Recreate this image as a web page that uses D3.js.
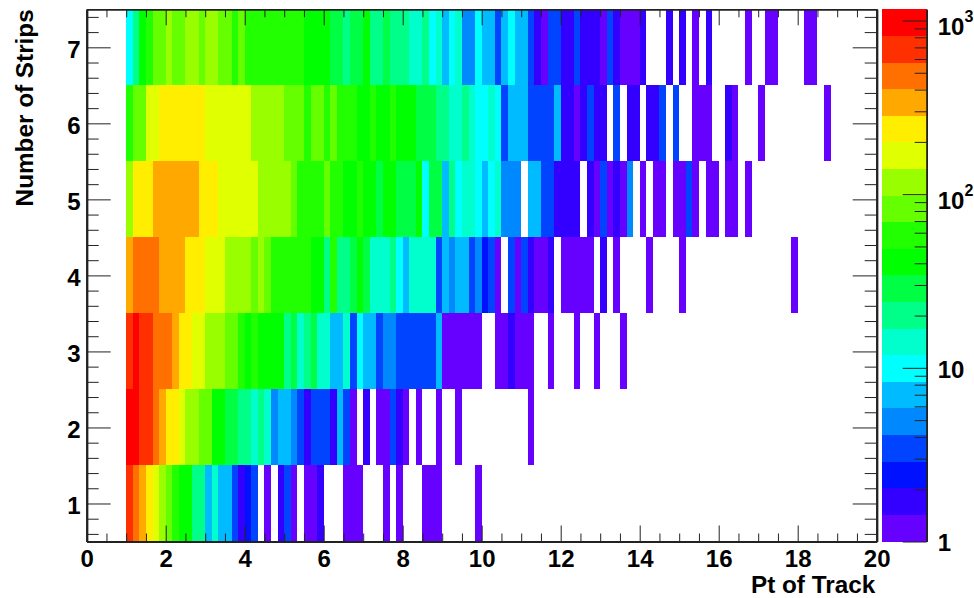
<!DOCTYPE html>
<html>
<head>
<meta charset="utf-8">
<script src="https://cdn.jsdelivr.net/npm/d3@7/dist/d3.min.js"></script>
<style>
html,body{margin:0;padding:0;background:#fff;}
svg{display:block;}
text{font-family:"Liberation Sans",Arial,sans-serif;font-weight:700;fill:#000;}
</style>
</head>
<body>
<svg id="chart" width="974" height="598"></svg>
<script>
// Counts per Pt bin (bin width 1/6, first bin starts at Pt = 1), one array per strip count
const ptStart = 1, ptBinWidth = 1 / 6;
const strips1 = [687,483,339,238,167,117,83,58,41,41, 20,20,7,14,7,7,3.4,1.7,2.4,3.4,
  0,1.2,0,1.7,3.4,1.2,0,1.2,1.2,1.7, 0,0,0,1.2,1.2,1.2,0,0,0,1.2,
  0,1.2,0,0,0,1.2,1.2,1.2,0,0, 0,0,0,1.2];
const strips2 = [978,978,687,687,483,339,238,238,167,117, 117,83,83,41,41,29,29,20,20,14,
  20,14,4.9,7,7,4.9,3.4,1.7,3.4,3.4, 3.4,1.7,7,3.4,1.2,0,1.7,0,1.2,1.2,
  3.4,1.7,1.2,0,1.2,0,0,1.2,0,0, 1.2,0,0,0,0,0,0,0,0,0, 0,1.2];
const strips3 = [687,978,687,687,483,483,483,339,238,238, 167,167,117,117,117,83,83,58,41,58,
  41,41,41,41,20,29,14,20,29,14, 14,7,7,14,3.4,10,7,7,3.4,4.9,
  4.9,3.4,3.4,3.4,3.4,3.4,3.4,7,1.2,1.2, 1.2,1.2,1.2,1.2,0,0,1.2,1.2,1.7,1.2,
  1.2,1.2,0,0,1.2,0,0,0,1.2,0, 0,1.2,0,0,0,1.2];
const strips4 = [339,483,483,483,483,339,339,339,339,238, 238,238,167,167,167,117,117,117,117,83,
  117,83,58,58,58,58,58,58,41,41, 20,58,20,20,29,41,29,14,14,14,
  20,10,7,14,14,14,14,3.4,7,4.9, 7,7,3.4,4.9,2.4,3.4,1.2,0,3.4,1.2,
  3.4,1.7,1.2,1.2,1.7,0,1.2,1.2,1.2,1.2, 1.2,0,1.7,0,1.2,0,0,0,0,1.2,
  0,0,0,0,1.2,0,0,0,0,0, 0,0,0,0,0,0,0,0,0,0, 0,1.2];
const strips5 = [117,238,238,238,339,339,339,339,339,339, 339,238,238,238,167,167,167,167,167,167,
  117,117,117,117,117,83,58,58,58,58, 83,58,58,41,41,58,41,41,29,41,
  41,29,29,29,41,10,29,29,7,20, 10,14,14,10,7,10,14,4.9,4.9,4.9,
  0,7,7,3.4,3.4,1.7,1.7,1.7,1.7,0, 1.7,1.2,3.4,1.2,1.7,1.2,4.9,0,1.2,0,
  1.2,1.2,0,1.2,1.2,3.4,1.2,0,1.2,1.2, 0,1.2,1.2,0,1.2];
const strips6 = [58,83,83,167,167,238,238,238,238,238, 238,238,167,167,167,167,167,167,167,117,
  117,117,117,117,83,83,83,58,83,83, 58,83,58,58,58,41,41,58,41,41,
  58,41,41,41,29,29,29,20,20,14, 14,20,14,10,10,14,10,3.4,7,7,
  7,3.4,3.4,3.4,3.4,7,1.7,1.7,1.2,1.7, 3.4,1.7,1.7,0,3.4,0,1.7,1.7,0,1.7,
  1.7,3.4,0,3.4,0,0,1.2,1.2,1.2,0, 0,1.7,1.2,0,0,0,1.2,0,0,0, 0,0,0,0,0,0,1.2];
const strips7 = [10,20,41,58,83,83,117,83,83,117, 117,83,117,117,83,83,58,83,58,58,
  58,58,58,58,58,58,58,41,41,41, 41,29,29,20,29,29,41,20,20,29,
  20,20,20,14,14,20,10,14,7,10, 14,4.9,4.9,10,7,7,3.4,7,10,7,
  7,3.4,1.7,1.2,3.4,3.4,1.7,1.7,3.4,1.7, 1.7,1.7,1.2,3.4,1.7,1.2,1.2,1.2,1.7,0,
  0,0,1.7,0,1.7,0,1.2,0,1.7,0, 0,0,0,0,1.2,0,0,1.2,1.2,0, 0,0,0,1.2,1.2];
const stripRows = [1, 2, 3, 4, 5, 6, 7];
const stripSeries = [strips1, strips2, strips3, strips4, strips5, strips6, strips7];

// ROOT-style rainbow palette, lowest contour first
const palette = ["#6600ff","#3300ff","#0011ff","#0044ff","#0088ff","#00bbff","#00ffff","#00ffcc","#00ff88","#00ff44",
                 "#00ff00","#22ff00","#66ff00","#99ff00","#e0ff00","#ffee00","#ffa800","#ff7000","#ff3000","#ff0000"];
const zMin = 1, zMax = 1160;
const xTickLabels = [0, 2, 4, 6, 8, 10, 12, 14, 16, 18, 20];
const yTickLabels = [1, 2, 3, 4, 5, 6, 7];
const zTickLabels = [1, 10, 100, 1000];
const xTitle = "Pt of Track", yTitle = "Number of Strips";

const svg = d3.select("#chart");
const L = 86.7, R = 876.7, T = 9.3, B = 541.5, barL = 882, barR = 926.7;
const x = d3.scaleLinear().domain([0, 20]).range([L, R]);
const y = d3.scaleLinear().domain([0.5, 7.5]).range([B, T]);
const z = d3.scaleLog().domain([zMin, zMax]).range([B, T]);
const colour = d3.scaleQuantize().domain([Math.log10(zMin), Math.log10(zMax)]).range(palette);

// Heat-map cells
const cells = stripRows.flatMap((row, r) =>
  stripSeries[r].map((v, i) => ({row, v, i})).filter(d => d.v > 0));
svg.append("g").attr("shape-rendering", "crispEdges").selectAll("rect").data(cells).join("rect")
  .attr("x", d => x(ptStart + d.i * ptBinWidth))
  .attr("width", d => x(ptStart + (d.i + 1) * ptBinWidth) - x(ptStart + d.i * ptBinWidth))
  .attr("y", d => y(d.row + 0.5))
  .attr("height", d => y(d.row - 0.5) - y(d.row + 0.5))
  .attr("fill", d => colour(Math.log10(d.v)));

// Colour bar
svg.append("g").attr("shape-rendering", "crispEdges").selectAll("rect").data(palette).join("rect")
  .attr("x", barL).attr("width", barR - barL)
  .attr("y", c => z(Math.pow(10, colour.invertExtent(c)[1])))
  .attr("height", c => z(Math.pow(10, colour.invertExtent(c)[0])) - z(Math.pow(10, colour.invertExtent(c)[1])))
  .attr("fill", c => c);

// Axes
const xMinor = d3.range(0.5, 20, 0.5).filter(v => v % 2 !== 0);
const yMinor = d3.range(6, 75, 2).map(v => v / 10).filter(v => v % 1 !== 0);
const zMinor = d3.range(0, 4).flatMap(e => d3.range(2, 10).map(m => m * Math.pow(10, e))).filter(v => v < zMax);

function style(g, width) {
  g.selectAll(".domain").attr("stroke", "#222").attr("stroke-width", width);
  g.selectAll(".tick line").attr("stroke", "#222").attr("stroke-width", 1);
  g.selectAll("text").attr("font-size", 24);
  return g;
}
const none = () => "";
function place(t) { return svg.append("g").attr("transform", t); }

// bottom
style(place(`translate(0,${B})`).call(d3.axisBottom(x).tickValues(xTickLabels).tickSizeOuter(0).tickSizeInner(-16).tickPadding(8).tickFormat(d3.format("d"))), 2);
style(place(`translate(0,${B})`).call(d3.axisBottom(x).tickValues(xMinor).tickSizeOuter(0).tickSizeInner(-8).tickFormat(none)), 2);
// top
style(place(`translate(0,${T})`).call(d3.axisTop(x).tickValues(xTickLabels).tickSizeOuter(0).tickSizeInner(-16).tickFormat(none)), 1.4);
style(place(`translate(0,${T})`).call(d3.axisTop(x).tickValues(xMinor).tickSizeOuter(0).tickSizeInner(-8).tickFormat(none)), 1.4);
// left
const yAxisG = style(place(`translate(${L},0)`).call(d3.axisLeft(y).tickValues(yTickLabels).tickSizeOuter(0).tickSizeInner(-24).tickPadding(6).tickFormat(d3.format("d"))), 2);
yAxisG.selectAll("text").attr("dy", 10.5);
style(place(`translate(${L},0)`).call(d3.axisLeft(y).tickValues(yMinor).tickSizeOuter(0).tickSizeInner(-12).tickFormat(none)), 2);
// right
style(place(`translate(${R},0)`).call(d3.axisRight(y).tickValues(yTickLabels).tickSizeOuter(0).tickSizeInner(-24).tickFormat(none)), 2);
style(place(`translate(${R},0)`).call(d3.axisRight(y).tickValues(yMinor).tickSizeOuter(0).tickSizeInner(-12).tickFormat(none)), 2);

// colour-bar axis
const zAxisG = style(place(`translate(${barR},0)`).call(d3.axisRight(z).tickValues(zTickLabels).tickSizeOuter(0).tickSizeInner(-24).tickPadding(11).tickFormat(none)), 1.6);
zAxisG.selectAll(".tick text").each(function(v) {
  const t = d3.select(this).attr("dy", null);
  const e = Math.round(Math.log10(v));
  if (e < 2) {
    t.text(v).attr("dy", e === 0 ? 9 : 10);
  } else {
    t.attr("dy", 14);
    t.append("tspan").text("10");
    t.append("tspan").text(e).attr("font-size", 16).attr("dy", -13);
  }
});
style(place(`translate(${barR},0)`).call(d3.axisRight(z).tickValues(zMinor).tickSizeOuter(0).tickSizeInner(-12).tickFormat(none)), 1.6);

// Titles
svg.append("text").attr("x", R - 1.5).attr("y", 593).attr("text-anchor", "end").attr("font-size", 24.3).text(xTitle);
svg.append("text").attr("transform", `translate(33,${T}) rotate(-90)`).attr("text-anchor", "end").attr("font-size", 24.3).text(yTitle);
</script>
</body>
</html>
